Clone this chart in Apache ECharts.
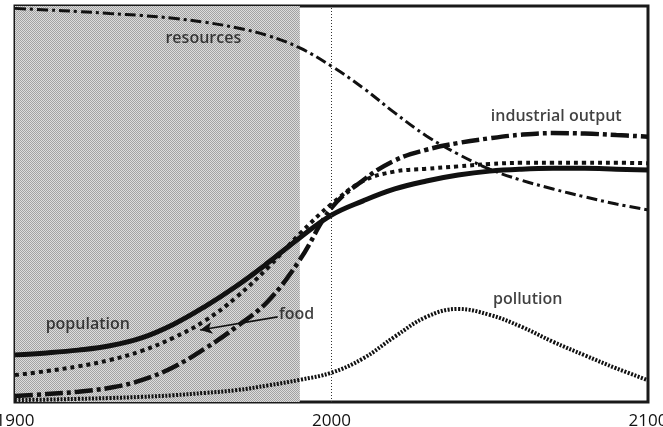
<!DOCTYPE html>
<html>
<head>
<meta charset="utf-8">
<script src="https://cdn.jsdelivr.net/npm/echarts@6/dist/echarts.min.js"></script>
<style>
  html, body { margin: 0; padding: 0; background: #fff; }
  #chart { width: 663px; height: 427px; }
</style>
</head>
<body>
<div id="chart"></div>
<script>
  // years shared by all the curves
  var years = [1900, 1910, 1920, 1930, 1940, 1950, 1960, 1970, 1980, 1990, 2000,
               2010, 2020, 2030, 2040, 2050, 2060, 2070, 2080, 2090, 2100]

  // values (0 = bottom of frame, 100 = top)
  var resources  = [99.4, 99.0, 98.6, 98.1, 97.6, 96.9, 95.9, 94.5, 92.5, 89.4, 84.8,
                    79.3, 73.0, 67.2, 62.6, 58.8, 56.0, 53.8, 51.8, 50.0, 48.5]
  var industrial = [1.5, 2.0, 2.6, 3.6, 5.5, 8.8, 13.5, 19.0, 25.5, 35.9, 49.0,
                    56.0, 61.0, 63.7, 65.4, 66.6, 67.5, 67.9, 67.8, 67.4, 67.0]
  var food       = [6.8, 7.8, 9.0, 10.6, 12.9, 16.2, 20.5, 26.5, 34.0, 42.5, 50.0,
                    55.8, 58.2, 58.9, 59.5, 60.1, 60.4, 60.4, 60.4, 60.4, 60.3]
  var population = [11.9, 12.4, 13.1, 14.2, 16.2, 19.6, 24.1, 29.3, 35.2, 41.5, 47.2,
                    50.8, 53.8, 55.8, 57.3, 58.3, 58.8, 59.0, 59.0, 58.8, 58.6]
  var pollution  = [0.5, 0.6, 0.8, 1.0, 1.3, 1.7, 2.3, 3.0, 4.2, 5.6, 7.4,
                    11.0, 16.5, 21.5, 23.5, 22.0, 19.0, 15.2, 11.8, 8.5, 5.5]

  var tickYears = [1900, 2000, 2100]
  var shadedSpan = [1900, 1990]

  // label text and where it sits (in data units)
  var labelNames = ['resources', 'industrial output', 'population', 'food', 'pollution']
  var labelAt = [[1959.5, 91.7], [2071, 72], [1923, 19.7], [1989, 22], [2062, 26]]

  function pairs (vals) {
    return years.map(function (y, i) { return [y, vals[i]] })
  }

  // dithered grey for the shaded past
  var pat = document.createElement('canvas')
  pat.width = 2; pat.height = 2
  var pc = pat.getContext('2d')
  pc.fillStyle = '#dcdcdc'; pc.fillRect(0, 0, 2, 2)
  pc.fillStyle = '#a2a2a2'; pc.fillRect(0, 0, 1, 1); pc.fillRect(1, 1, 1, 1)

  var font = '"Open Sans", Lato, sans-serif'

  function line (name, vals, width, dash) {
    return {
      name: name,
      type: 'line',
      data: pairs(vals),
      smooth: 0.4,
      symbol: 'none',
      z: 3,
      lineStyle: { color: '#111', width: width, type: dash, cap: 'butt' }
    }
  }

  var series = [
    {
      // background: shading + dotted line at 2000
      type: 'line',
      data: [],
      z: 1,
      markArea: {
        silent: true,
        itemStyle: { color: { image: pat, repeat: 'repeat' } },
        data: [[{ xAxis: shadedSpan[0] }, { xAxis: shadedSpan[1] }]]
      },
      markLine: {
        silent: true,
        symbol: 'none',
        label: { show: false },
        lineStyle: { color: '#333', width: 1, type: [1, 2] },
        data: [{ xAxis: 2000 }]
      }
    },
    line('pollution', pollution, 4, [2, 1.5]),
    line('resources', resources, 3, [11, 4, 3, 4]),
    line('industrial output', industrial, 4.5, [18, 4, 4, 4]),
    line('food', food, 4, [4, 4]),
    line('population', population, 5, 'solid')
  ]

  // food arrow
  series[4].markLine = {
    silent: true,
    symbol: ['none', 'arrow'],
    symbolSize: [9, 12],
    label: { show: false },
    lineStyle: { color: '#111', width: 1.6, type: 'solid', curveness: 0.08 },
    data: [[{ coord: [1983, 21.5] }, { coord: [1958.5, 18.2] }]]
  }

  // text labels
  series.push({
    type: 'scatter',
    z: 5,
    symbolSize: 0,
    silent: true,
    data: labelNames.map(function (n, i) { return { value: labelAt[i], name: n } }),
    label: {
      show: true,
      position: 'inside',
      formatter: function (p) { return p.name },
      color: '#111',
      fontFamily: font,
      fontSize: 16,
      fontWeight: 600
    }
  })

  var chart = echarts.init(document.getElementById('chart'))
  chart.setOption({
    animation: false,
    backgroundColor: '#fff',
    grid: {
      left: 15, right: 15, top: 6, bottom: 25,
      outerBoundsMode: 'none',
      containLabel: false,
      show: true, borderColor: '#1a1a1a', borderWidth: 3,
      backgroundColor: 'transparent'
    },
    xAxis: {
      type: 'value',
      min: tickYears[0], max: tickYears[tickYears.length - 1], interval: 100,
      axisLine: { show: false },
      axisTick: { show: false },
      splitLine: { show: false },
      axisLabel: {
        show: true, showMinLabel: true, showMaxLabel: true,
        margin: 11, color: '#111', fontSize: 17, fontFamily: font,
        formatter: function (v) { return String(v) }
      }
    },
    yAxis: {
      type: 'value', min: 0, max: 100,
      show: false, splitLine: { show: false }
    },
    series: series
  })
</script>
</body>
</html>
